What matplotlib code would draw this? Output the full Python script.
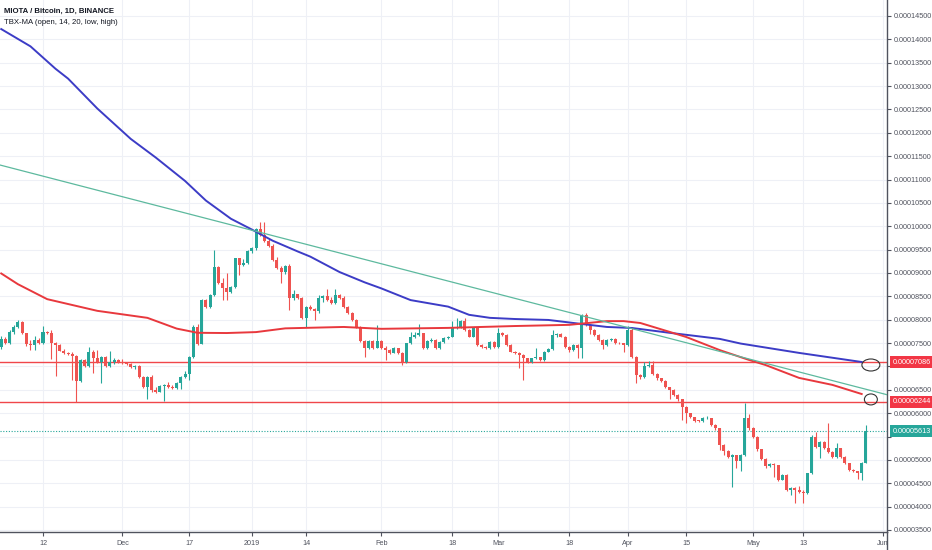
import matplotlib
matplotlib.use("Agg")
import matplotlib.pyplot as plt
import matplotlib.dates as mdates
import matplotlib.transforms as mtransforms
from matplotlib.patches import Ellipse
from matplotlib.lines import Line2D
import numpy as np
import pandas as pd

SAT = 1e-8  # prices below are in satoshi

# daily candles MIOTA/BTC, 2018-11-02 .. 2019-05-28 (open = previous close)
first_open = 7423
closes = [7581, 7500, 7745, 7850, 7960, 7710, 7475, 7460, 7560, 7510,
          7740, 7710, 7500, 7460, 7340, 7280, 7260, 7230, 6690, 7140,
          7000, 7300, 7175, 7100, 7195, 7010, 7100, 7140, 7100, 7080,
          7060, 6990, 7010, 6780, 6560, 6770, 6500, 6460, 6590, 6600,
          6550, 6530, 6640, 6770, 6840, 7210, 7850, 7490, 8420, 8280,
          8530, 9135, 8780, 8670, 8600, 8690, 9315, 9170, 9220, 9460,
          9530, 9935, 9810, 9690, 9580, 9280, 9100, 9030, 9150, 8460,
          8550, 8460, 8030, 8280, 8220, 8180, 8460, 8500, 8420, 8360,
          8530, 8460, 8280, 8150, 7990, 7850, 7550, 7390, 7550, 7400,
          7540, 7390, 7350, 7295, 7390, 7280, 7100, 7495, 7620, 7670,
          7710, 7390, 7550, 7565, 7390, 7530, 7600, 7640, 7815, 7850,
          7980, 7780, 7640, 7815, 7460, 7420, 7390, 7530, 7420, 7710,
          7670, 7460, 7315, 7280, 7245, 7175, 7100, 7175, 7195, 7140,
          7315, 7365, 7670, 7690, 7640, 7420, 7350, 7460, 7390, 8100,
          7880, 7780, 7670, 7565, 7460, 7565, 7580, 7510, 7495, 7460,
          7780, 7210, 6815, 6765, 7000, 7040, 6840, 6745, 6695, 6555,
          6495, 6390, 6295, 6140, 6000, 5910, 5840, 5830, 5890, 5895,
          5747, 5676, 5320, 5200, 5055, 5105, 4985, 5105, 5890, 5676,
          5497, 5226, 5012, 4870, 4920, 4890, 4570, 4677, 4356, 4400,
          4350, 4320, 4285, 4713, 5497, 5283, 5390, 5248, 5176, 5070,
          5248, 5070, 4927, 4784, 4763, 4713, 4941, 5613]
highs = [7650, 7620, 7780, 7880, 8000, 7980, 7720, 7560, 7660, 7600,
         7870, 7760, 7770, 7530, 7480, 7370, 7300, 7310, 7250, 7160,
         7160, 7410, 7350, 7350, 7220, 7220, 7340, 7170, 7160, 7150,
         7100, 7080, 7030, 7040, 6790, 6800, 6820, 6570, 6610, 6620,
         6660, 6600, 6660, 6790, 6900, 7230, 7880, 7900, 8440, 8440,
         8550, 9490, 9150, 8900, 9000, 8720, 9330, 9300, 9300, 9500,
         9560, 9960, 10100, 10090, 9740, 9620, 9340, 9140, 9170, 9190,
         8640, 8560, 8480, 8300, 8310, 8240, 8530, 8520, 8660, 8480,
         8660, 8560, 8500, 8300, 8170, 8010, 7870, 7570, 7570, 7560,
         7880, 7560, 7440, 7380, 7410, 7400, 7300, 7510, 7740, 7740,
         7910, 7720, 7570, 7600, 7580, 7550, 7620, 7660, 7980, 8030,
         8000, 8030, 7800, 7840, 7830, 7480, 7440, 7550, 7540, 7820,
         7730, 7690, 7480, 7330, 7300, 7260, 7190, 7190, 7400, 7210,
         7330, 7390, 7780, 7720, 7720, 7650, 7430, 7480, 7470, 8120,
         8140, 7900, 7800, 7690, 7580, 7590, 7600, 7600, 7530, 7510,
         7865, 7850, 7230, 6830, 7100, 7120, 7125, 6860, 6760, 6710,
         6570, 6510, 6400, 6310, 6150, 6010, 5920, 5860, 5910, 5930,
         5900, 5760, 5690, 5330, 5210, 5130, 5110, 5130, 6225, 5990,
         5700, 5510, 5240, 5030, 4940, 4940, 4900, 4700, 4690, 4420,
         4410, 4440, 4360, 4730, 5530, 5600, 5410, 5400, 5800, 5190,
         5370, 5260, 5080, 4940, 4800, 4770, 4960, 5747]
lows = [7380, 7470, 7480, 7690, 7820, 7700, 7440, 7360, 7350, 7490,
        7490, 7690, 7150, 6800, 7320, 7260, 7240, 6710, 6245, 6660,
        6980, 6980, 6870, 7080, 6650, 6990, 6990, 7050, 7080, 7060,
        7040, 6970, 6940, 6760, 6540, 6300, 6460, 6440, 6450, 6260,
        6530, 6510, 6510, 6520, 6750, 6700, 7190, 7460, 7470, 8260,
        8260, 8510, 8760, 8420, 8420, 8580, 8670, 8960, 9150, 9190,
        9430, 9500, 9790, 9670, 9560, 9260, 9080, 8780, 8980, 8210,
        8420, 8440, 8010, 7850, 8200, 7990, 8150, 8380, 8400, 8340,
        8330, 8440, 8260, 8130, 7970, 7830, 7530, 7210, 7370, 7380,
        7390, 7370, 7140, 7270, 7280, 7260, 7030, 7080, 7480, 7600,
        7650, 7370, 7370, 7520, 7370, 7380, 7510, 7580, 7620, 7800,
        7830, 7760, 7620, 7620, 7440, 7400, 7370, 7370, 7400, 7400,
        7650, 7440, 7300, 7260, 6960, 6710, 7080, 7080, 7160, 7120,
        7120, 7300, 7350, 7620, 7620, 7400, 7300, 7330, 7170, 7170,
        7860, 7700, 7650, 7540, 7370, 7440, 7540, 7490, 7470, 7316,
        7440, 7190, 6640, 6740, 6750, 6980, 6820, 6720, 6670, 6530,
        6300, 6370, 6270, 5860, 5780, 5890, 5820, 5810, 5820, 5870,
        5730, 5650, 5210, 5100, 5030, 4430, 4820, 4770, 5090, 5650,
        5470, 5200, 4990, 4820, 4850, 4640, 4550, 4560, 4330, 4250,
        4070, 4300, 4070, 4270, 4700, 5260, 5040, 5230, 5150, 5050,
        5050, 5050, 4910, 4760, 4740, 4600, 4570, 4930]
candle_dates = pd.date_range("2018-11-02", periods=len(closes), freq="D")

# TBX-MA lines (blue and red)
blue_dates = ["2018-11-02", "2018-11-09", "2018-11-15", "2018-11-18", "2018-11-25",
              "2018-12-03", "2018-12-09", "2018-12-16", "2018-12-21", "2018-12-27",
              "2019-01-01", "2019-01-06", "2019-01-12", "2019-01-15", "2019-01-22",
              "2019-01-28", "2019-02-01", "2019-02-08", "2019-02-17", "2019-02-22",
              "2019-02-27", "2019-03-05", "2019-03-13", "2019-03-19", "2019-03-27",
              "2019-04-02", "2019-04-11", "2019-04-23", "2019-04-28", "2019-05-12",
              "2019-05-27"]
blue_vals = [14220, 13850, 13370, 13160, 12520, 11870, 11470, 10970, 10550, 10160,
             9930, 9690, 9460, 9350, 9020, 8800, 8670, 8420, 8280, 8105,
             8040, 8015, 7995, 7930, 7845, 7823, 7720, 7590, 7490, 7290,
             7095]
red_dates = ["2018-11-02", "2018-11-06", "2018-11-13", "2018-11-25", "2018-12-07",
             "2018-12-14", "2018-12-19", "2018-12-26", "2019-01-02", "2019-01-09",
             "2019-01-23", "2019-02-01", "2019-02-17", "2019-03-05", "2019-03-18",
             "2019-03-27", "2019-03-31", "2019-04-04", "2019-04-11", "2019-04-15",
             "2019-04-23", "2019-04-30", "2019-05-04", "2019-05-12", "2019-05-20",
             "2019-05-27"]
red_vals = [8990, 8760, 8440, 8190, 8040, 7810, 7720, 7715, 7735, 7815,
            7845, 7805, 7825, 7865, 7890, 7970, 7970, 7930, 7740, 7630,
            7350, 7140, 7030, 6755, 6605, 6410]

# descending trendline (two anchors)
trend_dates = ["2018-11-01", "2019-06-05"]
trend_vals = [11327, 6327]

levels = [7086, 6244]   # horizontal resistance lines
last_price = 5613

xtick_dates = ["2018-11-12", "2018-12-01", "2018-12-17", "2019-01-01", "2019-01-14",
               "2019-02-01", "2019-02-18", "2019-03-01", "2019-03-18", "2019-04-01",
               "2019-04-15", "2019-05-01", "2019-05-13", "2019-06-01"]
xtick_labels = ["12", "Dec", "17", "2019", "14", "Feb", "18", "Mar", "18", "Apr",
                "15", "May", "13", "Jun"]
ytick_vals = list(range(3500, 14501, 500))
hidden_yticks = [5500, 7000]   # covered by the price boxes

GREEN = "#26a69a"
RED = "#ef5350"

plt.rcParams["font.family"] = ["Liberation Sans", "DejaVu Sans"]

fig = plt.figure(figsize=(9.32, 5.5), dpi=100)
ax = fig.add_axes([0, 18 / 550, 887 / 932, 532 / 550])

x = mdates.date2num(candle_dates)
o = np.array([first_open] + closes[:-1], dtype=float)
c = np.array(closes, dtype=float)
h = np.array(highs, dtype=float)
l = np.array(lows, dtype=float)
up = c >= o
cols = np.where(up, GREEN, RED)
body_lo = np.minimum(o, c)
body_h = np.maximum(np.abs(c - o), 15)

ax.vlines(x, l * SAT, h * SAT, colors=cols, linewidth=0.8, zorder=3)
ax.bar(x, body_h * SAT, bottom=body_lo * SAT, width=0.72, color=cols,
       linewidth=0, zorder=4)

bx = mdates.date2num(pd.to_datetime(blue_dates))
ax.plot(bx, np.array(blue_vals) * SAT, color="#3c3cc6", linewidth=1.4, zorder=5)
rx = mdates.date2num(pd.to_datetime(red_dates))
ax.plot(rx, np.array(red_vals) * SAT, color="#e8383d", linewidth=1.4, zorder=5)
tx = mdates.date2num(pd.to_datetime(trend_dates))
ax.plot(tx, np.array(trend_vals) * SAT, color="#5db99e", linewidth=0.9, zorder=5)

for lv in levels:
    ax.axhline(lv * SAT, color="#f0464a", linewidth=1.0, zorder=2)
ax.axhline(last_price * SAT, color=GREEN, linewidth=0.8, linestyle=(0, (1, 1.5)), zorder=2)

# hand drawn circles near the end of the MA lines
ex = x[-1] + 1.2
ax.add_patch(Ellipse((ex, (levels[0] - 55) * SAT), 4.3, 257 * SAT, fill=False,
                     edgecolor="#333333", linewidth=0.8, zorder=6))
ax.add_patch(Ellipse((ex, (levels[1] + 50) * SAT), 3.1, 235 * SAT, fill=False,
                     edgecolor="#333333", linewidth=0.8, zorder=6))

start = mdates.date2num(pd.Timestamp("2018-11-01"))
ax.set_xlim(start + 0.706, start + 213.06)
ax.set_ylim(3457 * SAT, 14842 * SAT)

ax.set_xticks(mdates.date2num(pd.to_datetime(xtick_dates)))
ax.set_xticklabels(xtick_labels)
ax.set_yticks(np.array(ytick_vals) * SAT)
ax.set_yticklabels(["" if v in hidden_yticks else f"{v * SAT:.8f}" for v in ytick_vals])
ax.yaxis.tick_right()
ax.tick_params(axis="both", labelsize=5.2, colors="#50535e", length=3, width=0.8, pad=2)
ax.tick_params(axis="x", pad=2.5)

ax.grid(True, color="#eef0f6", linewidth=0.8, zorder=0)
ax.set_axisbelow(True)
for s in ["left", "top"]:
    ax.spines[s].set_visible(False)
for s in ["right", "bottom"]:
    ax.spines[s].set_color("#50535e")
    ax.spines[s].set_linewidth(1.0)

# price axis line continues through the date strip
fig.add_artist(Line2D([887 / 932, 887 / 932], [0, 18 / 550], color="#50535e", linewidth=1.0))

# price labels on the axis
trans = mtransforms.blended_transform_factory(ax.transAxes, ax.transData)
for lv in levels:
    ax.text(1.006, lv * SAT, f"{lv * SAT:.8f}", transform=trans, ha="left", va="center",
            fontsize=5.2, color="white", zorder=10, clip_on=False,
            bbox=dict(boxstyle="square,pad=0.35", fc="#f23645", ec="none"))
ax.text(1.006, last_price * SAT, f"{last_price * SAT:.8f}", transform=trans, ha="left",
        va="center", fontsize=5.2, color="white", zorder=10, clip_on=False,
        bbox=dict(boxstyle="square,pad=0.35", fc=GREEN, ec="none"))

ax.text(0.005, 0.979, "MIOTA / Bitcoin, 1D, BINANCE", transform=ax.transAxes,
        fontsize=5.6, fontweight="bold", color="#131722", va="center", ha="left")
ax.text(0.005, 0.957, "TBX-MA (open, 14, 20, low, high)", transform=ax.transAxes,
        fontsize=5.6, color="#131722", va="center", ha="left")

fig.savefig("out.png", dpi=100)
